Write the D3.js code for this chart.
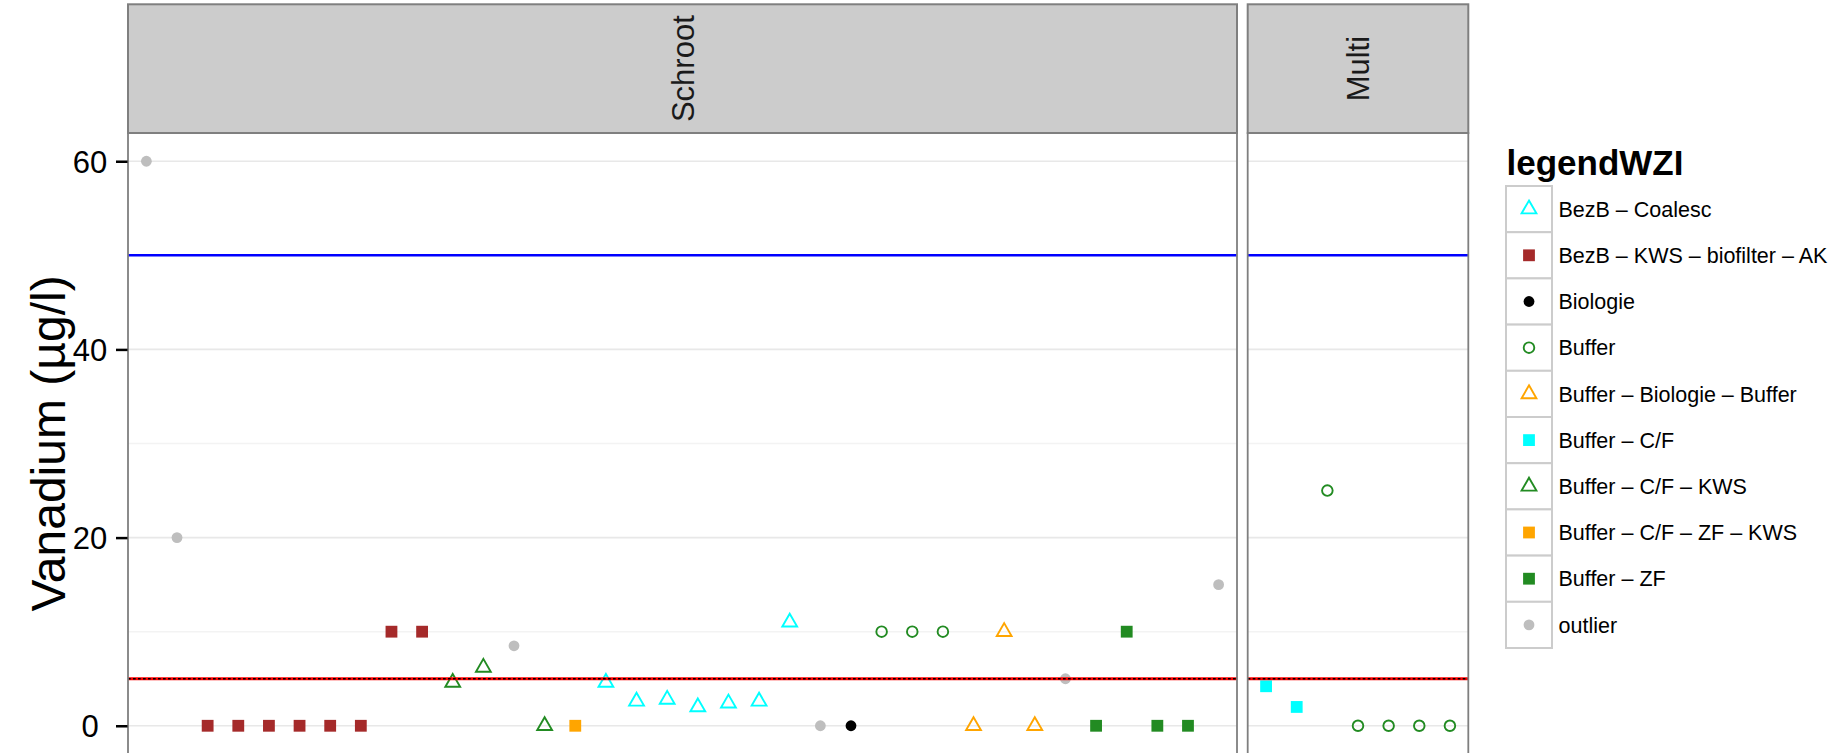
<!DOCTYPE html>
<html>
<head>
<meta charset="utf-8">
<script src="https://cdn.jsdelivr.net/npm/d3@7"></script>
<style>
  html, body { margin: 0; padding: 0; background: #ffffff; }
  svg { display: block; font-family: "Liberation Sans", Arial, Helvetica, sans-serif; }
</style>
</head>
<body>
<svg id="chart" width="1847" height="753"></svg>
<script>
// ---- data -------------------------------------------------------------
const legendLevels = [
  "BezB – Coalesc",
  "BezB – KWS – biofilter – AK",
  "Biologie",
  "Buffer",
  "Buffer – Biologie – Buffer",
  "Buffer – C/F",
  "Buffer – C/F – KWS",
  "Buffer – C/F – ZF – KWS",
  "Buffer – ZF",
  "outlier"
];
const legendColors = ["#00FFFF", "#A52A2A", "#000000", "#228B22", "#FFA500",
                      "#00FFFF", "#228B22", "#FFA500", "#228B22", "#BEBEBE"];
const legendShapes = ["triangle", "square", "dot", "circle", "triangle",
                      "square", "triangle", "square", "square", "dot"];

const facetNames = ["Schroot", "Multi"];

const schrootSamples = ["S01","S02","S03","S04","S05","S06","S07","S08","S09","S10",
                        "S11","S12","S13","S14","S15","S16","S17","S18","S19","S20",
                        "S21","S22","S23","S24","S25","S26","S27","S28","S29","S30",
                        "S31","S32","S33","S34","S35","S36"];
const schrootGroups = [
  "outlier", "outlier",
  "BezB – KWS – biofilter – AK", "BezB – KWS – biofilter – AK", "BezB – KWS – biofilter – AK",
  "BezB – KWS – biofilter – AK", "BezB – KWS – biofilter – AK", "BezB – KWS – biofilter – AK",
  "BezB – KWS – biofilter – AK", "BezB – KWS – biofilter – AK",
  "Buffer – C/F – KWS", "Buffer – C/F – KWS", "outlier", "Buffer – C/F – KWS",
  "Buffer – C/F – ZF – KWS",
  "BezB – Coalesc", "BezB – Coalesc", "BezB – Coalesc", "BezB – Coalesc",
  "BezB – Coalesc", "BezB – Coalesc", "BezB – Coalesc",
  "outlier", "Biologie",
  "Buffer", "Buffer", "Buffer",
  "Buffer – Biologie – Buffer", "Buffer – Biologie – Buffer", "Buffer – Biologie – Buffer",
  "outlier",
  "Buffer – ZF", "Buffer – ZF", "Buffer – ZF", "Buffer – ZF",
  "outlier"
];
const schrootValues = [60, 20, 0, 0, 0, 0, 0, 0, 10, 10,
                       4.6, 6.2, 8.5, 0, 0,
                       4.6, 2.6, 2.8, 2.0, 2.4, 2.6, 11,
                       0, 0, 10, 10, 10, 0, 10, 0, 5,
                       0, 10, 0, 0, 15];

const multiSamples = ["M01","M02","M03","M04","M05","M06","M07"];
const multiGroups = ["Buffer – C/F", "Buffer – C/F", "Buffer", "Buffer", "Buffer", "Buffer", "Buffer"];
const multiValues = [4.2, 2.0, 25, 0, 0, 0, 0];

const yMajorTicks = [0, 20, 40, 60];
const yMinorTicks = [10, 30, 50];
const upperLimit = 50;   // blue reference line
const lowerLimit = 5;    // red reference line

// ---- layout -----------------------------------------------------------
const svg = d3.select("#chart");
const panelTop = 133, panelBottom = 754, stripTop = 4.3;
const y = d3.scaleLinear().domain([-3, 63]).range([panelBottom, panelTop]);

const panels = [
  { name: facetNames[0], x0: 128, x1: 1237, samples: schrootSamples, groups: schrootGroups, values: schrootValues },
  { name: facetNames[1], x0: 1247.7, x1: 1468.3, samples: multiSamples, groups: multiGroups, values: multiValues }
];

const colorOf = d3.scaleOrdinal().domain(legendLevels).range(legendColors);
const shapeOf = d3.scaleOrdinal().domain(legendLevels).range(legendShapes);

// draw one symbol, R-style point shapes
function drawSymbol(g, shape, color, cx, cy) {
  if (shape === "triangle") {
    const R = 5.5, r = 1.5551 * R, xc = 1.3468 * R, yc = 0.7776 * R;
    g.append("path")
      .attr("d", `M${cx},${cy - r}L${cx + xc},${cy + yc}L${cx - xc},${cy + yc}Z`)
      .attr("fill", "none").attr("stroke", color).attr("stroke-width", 1.9)
      .attr("stroke-linejoin", "miter");
  } else if (shape === "square") {
    const s = 11.8;
    g.append("rect").attr("x", cx - s / 2).attr("y", cy - s / 2)
      .attr("width", s).attr("height", s).attr("fill", color);
  } else if (shape === "dot") {
    g.append("circle").attr("cx", cx).attr("cy", cy).attr("r", 5.4).attr("fill", color);
  } else if (shape === "circle") {
    g.append("circle").attr("cx", cx).attr("cy", cy).attr("r", 5.3)
      .attr("fill", "none").attr("stroke", color).attr("stroke-width", 1.9);
  }
}

panels.forEach((p, i) => {
  const x = d3.scalePoint().domain(p.samples).range([p.x0, p.x1]).padding(0.6);
  const clipId = "clip" + i;
  svg.append("clipPath").attr("id", clipId)
    .append("rect").attr("x", p.x0).attr("y", panelTop)
    .attr("width", p.x1 - p.x0).attr("height", panelBottom - panelTop);

  const g = svg.append("g").attr("clip-path", `url(#${clipId})`);
  g.append("rect").attr("x", p.x0).attr("y", panelTop)
    .attr("width", p.x1 - p.x0).attr("height", panelBottom - panelTop).attr("fill", "#ffffff");

  // grid
  g.selectAll(".minor").data(yMinorTicks).join("line")
    .attr("x1", p.x0).attr("x2", p.x1)
    .attr("y1", d => y(d)).attr("y2", d => y(d))
    .attr("stroke", "#f3f3f3").attr("stroke-width", 1.5);
  g.selectAll(".major").data(yMajorTicks).join("line")
    .attr("x1", p.x0).attr("x2", p.x1)
    .attr("y1", d => y(d)).attr("y2", d => y(d))
    .attr("stroke", "#e8e8e8").attr("stroke-width", 1.7);

  // points
  p.samples.forEach((s, k) => {
    const grp = p.groups[k];
    drawSymbol(g, shapeOf(grp), colorOf(grp), x(s), y(p.values[k]));
  });

  // reference lines
  g.append("line").attr("x1", p.x0).attr("x2", p.x1)
    .attr("y1", y(upperLimit)).attr("y2", y(upperLimit))
    .attr("stroke", "#0000FF").attr("stroke-width", 2.6);
  g.append("line").attr("x1", p.x0).attr("x2", p.x1)
    .attr("y1", y(lowerLimit)).attr("y2", y(lowerLimit))
    .attr("stroke", "#FF0000").attr("stroke-width", 3);
  g.append("line").attr("x1", p.x0).attr("x2", p.x1)
    .attr("y1", y(lowerLimit)).attr("y2", y(lowerLimit))
    .attr("stroke", "#000000").attr("stroke-width", 1.3)
    .attr("stroke-dasharray", "2.7,2.3");

  // panel border
  svg.append("rect").attr("x", p.x0).attr("y", panelTop)
    .attr("width", p.x1 - p.x0).attr("height", panelBottom - panelTop)
    .attr("fill", "none").attr("stroke", "#7f7f7f").attr("stroke-width", 1.8);

  // strip
  svg.append("rect").attr("x", p.x0).attr("y", stripTop)
    .attr("width", p.x1 - p.x0).attr("height", panelTop - stripTop)
    .attr("fill", "#cccccc").attr("stroke", "#7f7f7f").attr("stroke-width", 2);
  svg.append("text")
    .attr("transform", `translate(${(p.x0 + p.x1) / 2},${(stripTop + panelTop) / 2}) rotate(-90)`)
    .attr("text-anchor", "middle").attr("dy", "0.36em")
    .attr("font-size", 31).attr("fill", "#1a1a1a")
    .text(p.name);
});

// y axis (left of first panel)
const yAxis = d3.axisLeft(y).tickValues(yMajorTicks).tickSize(11.5).tickPadding(0);
const axisG = svg.append("g").attr("transform", `translate(${panels[0].x0 - 0.5},0)`).call(yAxis);
axisG.select(".domain").remove();
axisG.selectAll(".tick line").attr("stroke", "#000000").attr("stroke-width", 2.5);
axisG.selectAll(".tick text")
  .attr("x", -(panels[0].x0 - 0.5 - 90)).attr("text-anchor", "middle")
  .attr("font-size", 31).attr("fill", "#000000")
  .attr("font-family", "Liberation Sans, Arial, sans-serif")
  .attr("dy", "0.36em");

// y axis title
svg.append("text")
  .attr("transform", `translate(65,${(panelTop + panelBottom) / 2}) rotate(-90)`)
  .attr("text-anchor", "middle").attr("font-size", 48).attr("fill", "#000000")
  .text("Vanadium (µg/l)");

// legend
const legX = 1506, legTop = 186, keyW = 46, keyH = 46.2;
svg.append("text").attr("x", 1506.5).attr("y", 175)
  .attr("font-size", 35).attr("font-weight", "bold").attr("fill", "#000000")
  .text("legendWZI");
const leg = svg.append("g");
legendLevels.forEach((lvl, i) => {
  const ky = legTop + i * keyH;
  leg.append("rect").attr("x", legX).attr("y", ky).attr("width", keyW).attr("height", keyH)
    .attr("fill", "#ffffff").attr("stroke", "#cccccc").attr("stroke-width", 2);
});
legendLevels.forEach((lvl, i) => {
  const cy = legTop + i * keyH + keyH / 2;
  drawSymbol(leg, shapeOf(lvl), colorOf(lvl), legX + keyW / 2, cy);
  leg.append("text").attr("x", 1558.5).attr("y", cy).attr("dy", "0.36em")
    .attr("font-size", 21.5).attr("fill", "#000000").text(lvl);
});
</script>
</body>
</html>
